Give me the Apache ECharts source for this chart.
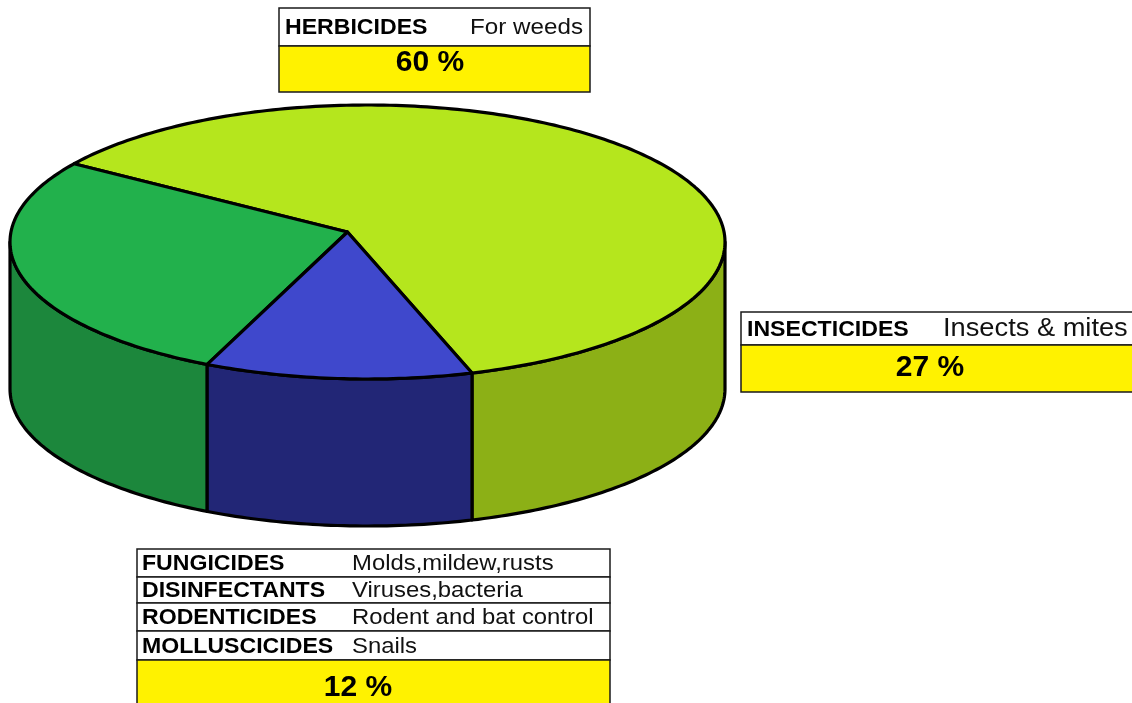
<!DOCTYPE html>
<html>
<head>
<meta charset="utf-8">
<script src="https://cdn.jsdelivr.net/npm/echarts@6/dist/echarts.min.js"></script>
<style>
  html, body { margin: 0; padding: 0; background: #ffffff; }
  #chart { width: 1132px; height: 703px; }
</style>
</head>
<body>
<div id="chart"></div>
<script>
// Pesticide use by type: shares of the pie (percent)
const slices = ['HERBICIDES', 'INSECTICIDES', 'OTHERS'];
const shares = [60, 27, 12];
const percentLabels = ['60 %', '27 %', '12 %'];

// Table rows shown in each callout: [name, what it targets]
const herbicideRows = [['HERBICIDES', 'For weeds']];
const insecticideRows = [['INSECTICIDES', 'Insects & mites']];
const otherRows = [
  ['FUNGICIDES', 'Molds,mildew,rusts'],
  ['DISINFECTANTS', 'Viruses,bacteria'],
  ['RODENTICIDES', 'Rodent and bat control'],
  ['MOLLUSCICIDES', 'Snails']
];

// Slice colours: top face and darker side wall
const topColors = ['#b5e61d', '#22b14c', '#3f48cc'];
const sideColors = ['#8cb016', '#1c873c', '#222676'];

// Shape of the extruded pie, in axis units (unit ellipse on top)
const START_DEG = 287;       // where the first slice begins, counter-clockwise
const DEPTH = 1.073;         // wall height
const HUB = [-0.056, 0.073]; // slight perspective shift of the centre point
const FONT = '"Liberation Sans", Arial, sans-serif';

const total = shares.reduce((a, b) => a + b, 0);
const startAngles = [];
shares.reduce((acc, v, i) => { startAngles[i] = START_DEG + acc / total * 360; return acc + v; }, 0);

function rim(api, deg, drop) {
  const r = deg * Math.PI / 180;
  return api.coord([Math.cos(r), Math.sin(r) - drop]);
}

function arcPoints(api, a0, a1, drop) {
  const pts = [];
  const n = Math.max(2, Math.ceil(Math.abs(a1 - a0)));
  for (let k = 0; k <= n; k++) pts.push(rim(api, a0 + (a1 - a0) * k / n, drop));
  return pts;
}

function renderSlice(params, api) {
  const i = params.dataIndex;
  const a0 = startAngles[i];
  const a1 = a0 + api.value(0) / total * 360;
  const children = [];
  const stroke = { stroke: '#000', lineWidth: 3.2, lineJoin: 'round' };

  // visible wall: the part of the arc lying on the front half (180..360 deg)
  for (let k = 0; k < 3; k++) {
    const lo = Math.max(a0, 180 + 360 * k);
    const hi = Math.min(a1, 360 + 360 * k);
    if (hi > lo) {
      const topArc = arcPoints(api, lo, hi, 0);
      const botArc = arcPoints(api, hi, lo, DEPTH);
      children.push({
        type: 'polygon', z2: 1,
        shape: { points: topArc.concat(botArc) },
        style: Object.assign({ fill: sideColors[i] }, stroke)
      });
    }
  }

  // top face
  const hub = api.coord(HUB);
  children.push({
    type: 'polygon', z2: 2,
    shape: { points: [hub].concat(arcPoints(api, a0, a1, 0)) },
    style: Object.assign({ fill: topColors[i] }, stroke)
  });
  return { type: 'group', children };
}

// Callout table: white rows of name/description, then a yellow percent row
function callout(box, rows, pct) {
  const els = [];
  let y = box.top;
  const line = { stroke: '#1a1a1a', lineWidth: 1.5 };
  rows.forEach((row, r) => {
    const h = box.rowHeights[r];
    els.push({ type: 'rect', shape: { x: box.left, y, width: box.width, height: h },
      style: Object.assign({ fill: '#ffffff' }, line) });
    els.push({ type: 'text', x: box.left + box.nameX, y: y + h / 2 + 1, scaleX: 1.05,
      style: { text: row[0], fontFamily: FONT, fontSize: 22, fontWeight: 'bold', fill: '#000',
        align: 'left', verticalAlign: 'middle' } });
    els.push({ type: 'text', x: box.left + box.descX, y: y + h / 2 + 1, scaleX: box.descScale,
      style: { text: row[1], fontFamily: FONT, fontSize: box.descSize, fill: '#111',
        align: 'left', verticalAlign: 'middle' } });
    y += h;
  });
  els.push({ type: 'rect', shape: { x: box.left, y, width: box.width, height: box.pctHeight },
    style: Object.assign({ fill: '#fff200' }, line) });
  els.push({ type: 'text', x: box.pctX, y: box.pctY,
    style: { text: pct, fontFamily: FONT, fontSize: 30, fontWeight: 'bold', fill: '#000',
      align: 'center', verticalAlign: 'middle' } });
  return els;
}

const chart = echarts.init(document.getElementById('chart'), null, { renderer: 'canvas' });
chart.setOption({
  backgroundColor: '#ffffff',
  animation: false,
  grid: { left: 10, top: 105, width: 715, height: 438.4 },
  xAxis: { type: 'value', min: -1, max: 1, show: false },
  yAxis: { type: 'value', min: -2.2, max: 1, show: false },
  series: [{
    type: 'custom',
    name: 'Pesticides',
    coordinateSystem: 'cartesian2d',
    renderItem: renderSlice,
    encode: { x: 0, y: 1 },
    data: shares.map((v, i) => ({ name: slices[i], value: [v, 0] }))
  }],
  graphic: [].concat(
    callout({ left: 279, top: 8, width: 311, rowHeights: [38], pctHeight: 46,
      nameX: 6, descX: 191, descSize: 22, descScale: 1.1, pctX: 430, pctY: 63 },
      herbicideRows, percentLabels[0]),
    callout({ left: 741, top: 312, width: 420, rowHeights: [33], pctHeight: 47,
      nameX: 6, descX: 202, descSize: 25, descScale: 1.09, pctX: 930, pctY: 368 },
      insecticideRows, percentLabels[1]),
    callout({ left: 137, top: 549, width: 473, rowHeights: [28, 26, 28, 29], pctHeight: 46,
      nameX: 5, descX: 215, descSize: 22, descScale: 1.085, pctX: 358, pctY: 688 },
      otherRows, percentLabels[2])
  )
});
</script>
</body>
</html>
